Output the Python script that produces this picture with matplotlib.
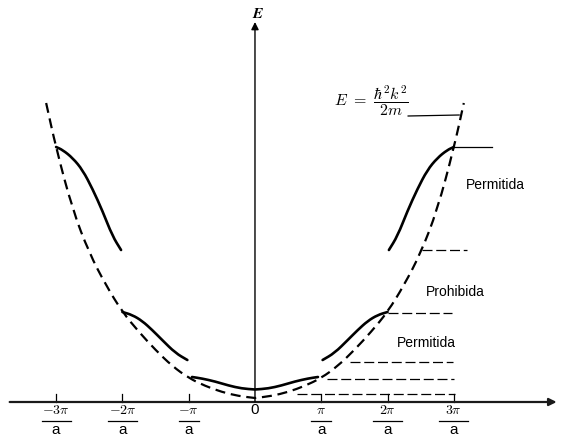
import matplotlib.pyplot as plt
import numpy as np
from matplotlib.path import Path
from matplotlib.patches import PathPatch

plt.rcParams['mathtext.fontset'] = 'cm'

# free electron curve E = hbar^2 k^2 / 2m (k in units of pi/a), read at k >= 0
free_k = [0, 0.25, 0.5, 0.75, 1.0, 1.25, 1.5, 1.75, 2.0, 2.25, 2.5, 2.75, 3.0, 3.15]
free_E = [4, 6, 10, 16, 24, 36, 52, 70, 90, 117, 149, 192, 254, 299]

# allowed bands (symmetric in k), read at k >= 0
band1_k = [0, 0.2, 0.4, 0.6, 0.8, 0.95]
band1_E = [12.5, 13.5, 16.5, 20.5, 23.5, 25]
band2_k = [1.02, 1.2, 1.4, 1.55, 1.7, 1.85, 2.0]
band2_E = [42, 49, 62, 72, 81, 87, 90]
band3_k = [2.02, 2.15, 2.3, 2.45, 2.6, 2.75, 2.9, 3.0]
band3_E = [152, 166, 191, 213, 232, 244, 252, 255]

# band edge guides on the right
edge_E = [152, 89, 40, 23, 8]
edge_k0 = [2.52, 2.0, 1.43, 1.09, 0.63]
edge_k1 = [3.2, 2.97, 2.99, 3.0, 3.02]

tick_k = [-3, -2, -1, 1, 2, 3]
tick_num = [r'$-3\pi$', r'$-2\pi$', r'$-\pi$', r'$\pi$', r'$2\pi$', r'$3\pi$']

regions = ['Permitida', 'Prohibida', 'Permitida']
region_k = [3.62, 3.02, 2.58]
region_E = [217, 110, 59]


def mirror(k, E):
    k = np.asarray(k, float)
    E = np.asarray(E, float)
    return np.concatenate([-k[::-1], k]), np.concatenate([E[::-1], E])


def smooth_curve(ax, k, E, **kw):
    """Draw the points as a curve with rounded corners (quadratic beziers)."""
    pts = np.column_stack([k, E])
    verts = [pts[0], (pts[0] + pts[1]) / 2]
    codes = [Path.MOVETO, Path.LINETO]
    for i in range(1, len(pts) - 1):
        verts += [pts[i], (pts[i] + pts[i + 1]) / 2]
        codes += [Path.CURVE3, Path.CURVE3]
    verts.append(pts[-1])
    codes.append(Path.LINETO)
    ax.add_patch(PathPatch(Path(verts, codes), fill=False, **kw))


fig = plt.figure(figsize=(5.63, 4.37), dpi=100)
ax = fig.add_axes([0, 0, 1, 1])
ax.set_xlim(-3.846, 4.646)
ax.set_ylim(-35, 402)
ax.axis('off')

# axes with arrows
ax.annotate('', xy=(4.55, 0), xytext=(-3.7, 0),
            arrowprops=dict(arrowstyle='-|>', lw=1.6, color='#1a1a1a',
                            mutation_scale=11, shrinkA=0, shrinkB=0))
ax.annotate('', xy=(0, 380), xytext=(0, 0),
            arrowprops=dict(arrowstyle='-|>', lw=1.0, color='k',
                            mutation_scale=11, shrinkA=0, shrinkB=0))
ax.text(0.05, 388, r'$\boldsymbol{E}$', ha='center', va='center', fontsize=11)

# free electron parabola
fk, fE = mirror(free_k, free_E)
smooth_curve(ax, fk, fE, edgecolor='k', lw=1.6, ls=(0, (4.5, 2.6)))

# bands
k, E = mirror(band1_k, band1_E)
smooth_curve(ax, k, E, edgecolor='k', lw=1.9, capstyle='round')
for bk, bE in [(band2_k, band2_E), (band3_k, band3_E)]:
    k = np.asarray(bk)
    smooth_curve(ax, k, bE, edgecolor='k', lw=1.9, capstyle='round')
    smooth_curve(ax, -k, bE, edgecolor='k', lw=1.9, capstyle='round')

# band edge guides
for e, k0, k1 in zip(edge_E, edge_k0, edge_k1):
    ax.plot([k0, k1], [e, e], color='k', lw=0.9, ls=(0, (8, 3)))
ax.plot([3.0, 3.57], [255, 255], color='k', lw=0.9)

# formula and leader line
ax.text(1.75, 301, r'$E\ =\ \dfrac{\hbar^2k^2}{2m}$', ha='center', va='center', fontsize=11.5)
ax.plot([2.31, 3.08], [286, 287], color='k', lw=0.9)

# ticks and fractional labels
for k, num in zip(tick_k, tick_num):
    ax.plot([k, k], [0, 8], color='k', lw=0.9)
    ax.text(k, -8, num, ha='center', va='center', fontsize=10)
    w = 0.22 if abs(k) > 1 else 0.15
    ax.plot([k - w, k + w], [-19, -19], color='k', lw=0.9)
    ax.text(k, -28, 'a', ha='center', va='center', fontsize=11, family='Liberation Sans')
ax.text(0, -8, '0', ha='center', va='center', fontsize=11, family='Liberation Sans')

for name, k, e in zip(regions, region_k, region_E):
    ax.text(k, e, name, ha='center', va='center', fontsize=10, family='Liberation Sans')

fig.savefig('out.png', dpi=100)
